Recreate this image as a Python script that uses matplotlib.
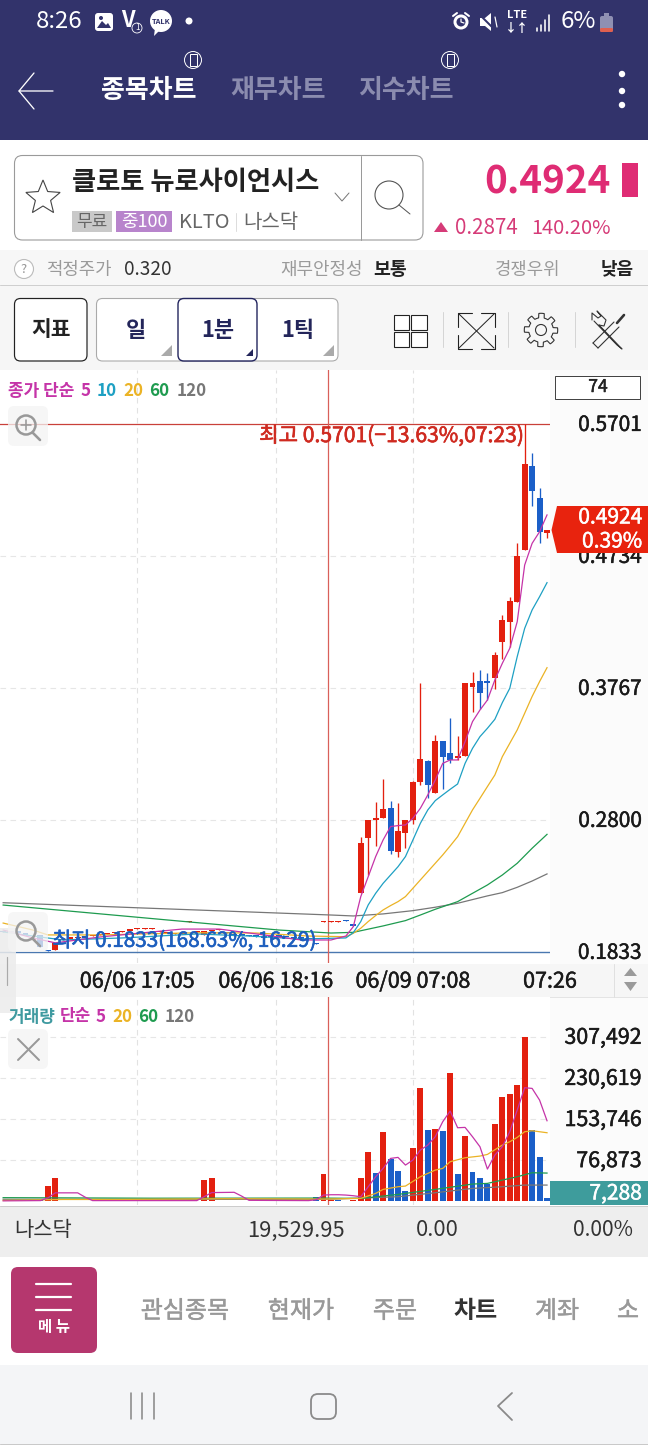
import matplotlib
matplotlib.use("Agg")
import matplotlib.pyplot as plt
import matplotlib.patheffects as pe
from matplotlib.patches import FancyBboxPatch, Rectangle, Polygon, Circle
from matplotlib.transforms import ScaledTranslation
import numpy as np

plt.rcParams['font.family'] = ['Noto Sans CJK KR', 'DejaVu Sans']

# ---------- data ----------
early_open = [.1987,.1987,.1980,.1965,.1921,.1958,.1850,.1850,.1921,.1930,.1936,.1943,.1950,.1958,.1965,.1972,
              .1980,.1990,.2001,.2001,.2001,.1980,.1972,.1965,.1965,.2053,.1980,.1958,.1987,.1994,.1980,.1958,
              .1958,.1955,.1950,.1950,.1950,.1950,.1945,.1940,.1935,.1930,.1900,.2053,.2053,.2053,.2066,.2030]
early_close = [.1980,.1980,.1975,.1960,.1936,.1870,.1840,.1900,.1925,.1935,.1940,.1948,.1955,.1962,.1970,.1976,
               .1985,.2001,.2006,.2006,.2006,.1985,.1976,.1970,.1970,.2060,.1985,.1987,.1994,.1998,.1973,.1952,
               .1952,.1950,.1945,.1936,.1945,.1945,.1940,.1935,.1930,.1925,.1892,.2060,.2060,.2060,.2060,.2025]
late_open = [.2267,.2670,.2802,.2817,.2888,.2568,.2707,.2800,.3078,.3232,.3000,.3379,.3291,.3252,.3267,.3777,
             .3818,.3813,.3840,.4106,.4253,.4399,.4778,.5393,.5161,.4905]
late_high = [.2678,.2800,.2930,.3100,.2939,.2925,.2800,.3086,.3804,.3240,.3423,.3379,.3547,.3415,.3804,.3886,
             .3899,.3879,.4033,.4302,.4436,.4832,.5701,.5489,.5232,.4924]
late_low = [.2267,.2397,.2612,.2815,.2553,.2531,.2595,.2771,.3056,.2963,.3000,.3027,.3220,.3240,.3267,.3591,
            .3613,.3679,.3760,.3980,.4070,.4399,.4778,.5103,.4829,.4867]
late_close = [.2629,.2800,.2817,.2878,.2573,.2722,.2800,.3078,.3249,.3056,.3379,.3264,.3240,.3271,.3801,.3801,
              .3733,.3806,.4009,.4265,.4402,.4736,.5408,.5212,.4912,.4924]

ma5_idx = [0,4,7,13,24,29,35,40,44,46,47,48,49,50,51,52,53,54,55,56,57,58,59,60,61,62,63,64,65,66,67,68,69,70,71,72,73]
ma5_val = [.1994,.1936,.1900,.1943,.2001,.2001,.1958,.1921,.1921,.1950,.2019,.2239,.2385,.2532,.2654,.2752,.2759,.2764,
           .2813,.2886,.2984,.3093,.3215,.3240,.3240,.3374,.3521,.3606,.3679,.3826,.3948,.4058,.4253,.4668,.4827,.4912,.5035]
ma10_idx = [0,5,8,16,26,33,40,46,47,48,49,50,51,52,53,54,55,56,57,58,59,60,61,62,63,64,65,66,67,68,69,70,71,72,73]
ma10_val = [.1980,.1943,.1921,.1936,.1965,.1950,.1928,.1936,.1975,.2056,.2178,.2263,.2336,.2397,.2458,.2532,.2654,.2776,
            .2874,.2942,.2984,.3025,.3064,.3215,.3325,.3411,.3472,.3538,.3660,.3765,.3997,.4204,.4339,.4436,.4539]
ma20_idx = [0,4,6,13,26,34,41,46,47,48,49,50,51,52,53,54,55,56,57,58,59,60,61,62,63,64,65,66,67,68,69,70,71,72,73]
ma20_val = [.2045,.1994,.1958,.1958,.1974,.1972,.1950,.1945,.1970,.2007,.2056,.2100,.2141,.2173,.2202,.2239,.2300,.2361,
            .2422,.2483,.2544,.2610,.2678,.2776,.2874,.2959,.3045,.3130,.3264,.3362,.3460,.3582,.3705,.3814,.3916]
ma60_idx = [0,25,37,44,47,51,54,56,58,61,63,65,67,69,71,73]
ma60_val = [.2177,.2053,.1994,.1972,.1977,.2024,.2063,.2104,.2146,.2202,.2263,.2324,.2397,.2483,.2593,.2695]
ma120_idx = [0,19,44,47,51,55,58,61,65,67,69,71,73]
ma120_val = [.2194,.2155,.2104,.2097,.2112,.2136,.2161,.2190,.2244,.2268,.2307,.2353,.2405]

early_vol = [1200,800,1500,900,1800,2200,28670,44250,1500,900,1200,800,600,1000,2500,2200,900,700,1100,800,1300,
             900,2600,1200,800,1000,1500,39890,43010,1100,900,1400,800,700,1000,900,1200,800,1100,1600,1300,1000,8730,50490,
             2100,1800,1500,1700]
late_vol = [43630,92250,52980,129650,78540,57340,19320,99100,211300,132760,134630,130890,239350,51110,122170,54230,
            43010,31790,143980,195090,200080,216900,307492,132760,82900,7288]
early_vol_up = [1,1,0,1,1,0,1,1,1,0,1,0,1,0,1,1,0,1,0,1,0,1,1,0,1,0,1,1,1,0,1,0,1,0,1,0,0,1,0,1,0,1,0,1,1,0,0,1]
late_vol_up = [1,1,0,1,0,0,0,1,1,0,1,0,1,0,1,0,0,0,1,1,1,1,1,0,0,0]

vma5_idx = [0,5,6,7,10,11,12,26,27,28,31,32,33,41,42,43,44,45,46,47,48,49,50,51,52,53,54,55,56,57,58,59,60,61,62,63,64,65,66,67,68,69,70,71,72,73]
vma5_val = [1000,1500,6500,16000,16000,8000,1500,1500,9000,16500,17000,10000,2000,1500,3000,11840,12470,12470,11840,10600,8730,
            27430,46120,61700,80410,82280,67940,77290,95990,105340,120920,148970,168920,137750,138370,120920,102220,60460,
            86640,102220,130270,170780,212550,211300,189480,150840]
vma20_idx = [0,8,15,30,43,48,50,51,53,54,56,58,59,60,62,64,65,67,68,69,70,71,73]
vma20_val = [1800,3600,3600,5000,4360,5610,14960,22440,27430,28670,46120,58590,61700,74170,81650,84770,87880,105340,111570,119670,130270,132140,128400]
vma60_idx = [0,20,43,48,53,58,63,65,67,69,71,73]
vma60_val = [7000,6000,6230,5610,13090,22440,32410,33660,39890,46120,53600,52980]
vma120_idx = [0,43,53,58,63,67,70,73]
vma120_val = [4000,3740,8730,16210,24310,27430,30540,30540]

price_ticks = [0.1833, 0.2800, 0.3767, 0.4734, 0.5701]
price_labels = ['0.1833', '0.2800', '0.3767', '0.4734', '0.5701']
vol_ticks = [76873, 153746, 230619, 307492]
vol_labels = ['76,873', '153,746', '230,619', '307,492']
time_ticks = [18, 36.6, 55, 73.4]
time_labels = ['06/06 17:05', '06/06 18:16', '06/09 07:08', '07:26']

RED, BLUE = '#E3200F', '#1B5FC8'
C5, C10, C20, C60, C120 = '#C534A8', '#1EA0C3', '#EBB325', '#1E9B4F', '#777777'
W, H = 648, 1445

fig = plt.figure(figsize=(W/100, H/100), dpi=100, facecolor='white')

def rect_axes(x0, y0, x1, y1, z):
    return fig.add_axes([x0/W, 1-y1/H, (x1-x0)/W, (y1-y0)/H], zorder=z)

bg = fig.add_axes([0, 0, 1, 1], zorder=0)
top = fig.add_axes([0, 0, 1, 1], zorder=5)
for a in (bg, top):
    a.set_xlim(0, W); a.set_ylim(H, 0); a.axis('off')
top.patch.set_alpha(0)

def medium(t, col, w=0.35):
    t.set_path_effects([pe.withStroke(linewidth=w, foreground=col)])
    return t

def T(a, x, y, s, px, color='#222222', ha='left', weight='normal', va='center', **kw):
    t = a.text(x, y+1.5, s, fontsize=px*0.72, color=color, ha=ha, va=va,
               fontweight='bold' if weight == 'bold' else 'normal', **kw)
    if weight == 'medium':
        medium(t, color)
    return t

def R(a, x0, y0, x1, y1, fc, ec='none', lw=0, r=0, z=1):
    if r:
        p = FancyBboxPatch((x0, y0), x1-x0, y1-y0, boxstyle=f'round,pad=0,rounding_size={r}',
                           fc=fc, ec=ec, lw=lw*0.72, zorder=z, mutation_aspect=1)
    else:
        p = Rectangle((x0, y0), x1-x0, y1-y0, fc=fc, ec=ec, lw=lw*0.72, zorder=z)
    a.add_patch(p)

def L(a, xs, ys, color, lw=1.0, z=3, **kw):
    a.plot(xs, ys, color=color, lw=lw*0.72, zorder=z, solid_capstyle='round', **kw)

# ---------- backgrounds ----------
NAVY = '#32336B'
R(bg, 0, 0, W, 140, NAVY)
R(bg, 0, 140, W, 250, 'white')
R(bg, 0, 250, W, 286, '#F7F7F7')
L(bg, [0, W], [285, 285], '#CFCFCF', 1)
R(bg, 0, 286, W, 370, '#F6F6F6')
R(bg, 550, 370, W, 1205, '#FBFBFB')
R(bg, 0, 964, W, 997, '#F6F6F6')
L(bg, [0, W], [997, 997], '#E4E4E4', 1)
R(bg, 0, 1206, W, 1257, '#EEEEEE')
L(bg, [0, W], [1206, 1206], '#CCCCCC', 1)
R(bg, 0, 1257, W, 1365, 'white')
R(bg, 0, 1365, W, H, '#F4F5F7')
L(bg, [0, W], [1444, 1444], '#C9C9C9', 1)

# ---------- status and title bar ----------
T(bg, 36, 20, '8:26', 24, 'white')
R(bg, 95, 13, 113, 31, 'white', r=3, z=2)
bg.add_patch(Polygon([[97, 28], [102, 21], [106, 25], [108, 23], [111, 28]], fc=NAVY, zorder=3))
bg.add_patch(Circle((101, 18), 2, fc=NAVY, zorder=3))
T(bg, 128, 19, 'V', 22, 'white', ha='center', weight='bold')
bg.add_patch(Circle((137, 28), 5, fc='none', ec='white', lw=0.6, zorder=3))
T(bg, 137, 26, '1', 8, 'white', ha='center')
bg.add_patch(Circle((161, 21), 11, fc='white', zorder=2))
bg.add_patch(Polygon([[155, 28], [159, 31], [154, 36]], fc='white', zorder=2))
T(bg, 161, 19.5, 'TALK', 7.5, NAVY, ha='center', weight='bold', zorder=3)
bg.add_patch(Circle((189, 21), 3.5, fc='white', zorder=2))
bg.add_patch(Circle((461, 22), 7.5, fc='white', zorder=2))
bg.add_patch(Circle((461, 22), 4.5, fc=NAVY, zorder=3))
L(bg, [461, 461, 464], [19, 22, 23], 'white', 1.2, z=4)
L(bg, [453, 457], [16, 13], 'white', 2)
L(bg, [465, 469], [13, 16], 'white', 2)
bg.add_patch(Polygon([[480, 18], [485, 18], [491, 13], [491, 31], [485, 26], [480, 26]], fc='white', zorder=2))
L(bg, [479, 496], [14, 31], NAVY, 2, z=3)
L(bg, [495, 497], [17, 27], 'white', 1.2)
T(bg, 517, 13.5, 'LTE', 11, 'white', ha='center', weight='bold')
T(bg, 517, 26.5, '↓↑', 12, 'white', ha='center', weight='bold')
for bx, bt in zip([537, 541, 545, 549], [28, 25, 20, 15]):
    L(bg, [bx, bx], [bt, 31], 'white', 1.6)
T(bg, 561, 20, '6%', 24, 'white')
R(bg, 600, 16, 613, 32, '#8F90B2', r=2, z=2)
R(bg, 604, 13, 609, 16, '#8F90B2', z=2)
R(bg, 600, 28, 613, 32, '#E0604F', r=1.5, z=3)

L(bg, [53, 19, 34], [91, 91, 73], 'white', 1.3)
L(bg, [19, 34], [91, 109], 'white', 1.3)
T(bg, 149, 89, '종목차트', 26, 'white', ha='center', weight='bold')
T(bg, 278, 89, '재무차트', 26, '#8B8CAF', ha='center', weight='bold')
T(bg, 406, 89, '지수차트', 26, '#8B8CAF', ha='center', weight='bold')
for cx in (193, 450):
    bg.add_patch(Circle((cx, 60), 8.5, fc='none', ec='white', lw=0.7, zorder=2))
    R(bg, cx-3.5, 54, cx+3.5, 66, NAVY, ec='white', lw=1, z=3)
for dy in (74, 91, 105):
    bg.add_patch(Circle((622, dy), 3.2, fc='white', zorder=2))

# ---------- stock header ----------
R(bg, 14.5, 155.5, 423, 240, 'white', ec='#9A9A9A', lw=1.1, r=8, z=2)
L(bg, [361, 361], [156, 240], '#9A9A9A', 1)
ang = np.deg2rad(np.arange(0, 360, 36) - 90)
rad = np.where(np.arange(10) % 2 == 0, 18, 8)
bg.add_patch(Polygon(np.c_[43+rad*np.cos(ang), 198+rad*np.sin(ang)], fc='none', ec='#444444', lw=0.8, zorder=3))
T(bg, 72, 181, '클로토 뉴로사이언시스', 26.3, '#222222', weight='bold', zorder=3)
L(bg, [335, 342, 349], [193, 201, 193], '#777777', 1)
bg.add_patch(Circle((389, 195), 14, fc='none', ec='#555555', lw=0.8, zorder=3))
L(bg, [399, 410], [205, 214], '#555555', 1)
R(bg, 72, 211, 112, 232, '#C9C9C9', z=3)
T(bg, 92, 220, '무료', 17, '#666666', ha='center', zorder=4)
R(bg, 116, 211, 172, 232, '#B884CC', z=3)
T(bg, 144, 220, '중100', 18, 'white', ha='center', zorder=4)
T(bg, 179, 221, 'KLTO', 20, '#666666', zorder=3)
L(bg, [236, 236], [213, 231], '#DDDDDD', 1)
T(bg, 243, 221, '나스닥', 20, '#666666', zorder=3)
PINK = '#DF2C74'
T(bg, 611, 180, '0.4924', 38.5, PINK, ha='right', weight='bold')
R(bg, 622, 163, 638, 197, PINK)
bg.add_patch(Polygon([[434, 232], [448, 232], [441, 222]], fc='#D63B78'))
T(bg, 455, 226.5, '0.2874', 20.5, '#D63B78')
T(bg, 611, 226.5, '140.20%', 20, '#D63B78', ha='right')

# ---------- info row ----------
bg.add_patch(Circle((24, 269), 9.5, fc='white', ec='#BBBBBB', lw=0.8, zorder=2))
T(bg, 24, 268, '?', 13, '#999999', ha='center', zorder=3)
T(bg, 46, 268, '적정주가', 17.8, '#9A9A9A')
T(bg, 124, 268, '0.320', 19, '#333333')
T(bg, 363, 268, '재무안정성', 18, '#9A9A9A', ha='right')
T(bg, 373, 268, '보통', 18.3, '#222222', weight='bold')
T(bg, 560, 268, '경쟁우위', 17.8, '#9A9A9A', ha='right')
T(bg, 634, 268, '낮음', 18, '#222222', ha='right', weight='bold')

# ---------- toolbar ----------
R(bg, 14.5, 298.5, 87, 361, 'white', ec='#222222', lw=1.2, r=6, z=2)
T(bg, 51, 328, '지표', 21.5, '#222222', ha='center', weight='bold', zorder=3)
R(bg, 96.5, 298.5, 338, 361, 'white', ec='#AAAAAA', lw=1.1, r=6, z=2)
R(bg, 178, 298.5, 257, 361, 'white', ec='#24265F', lw=1.4, r=6, z=3)
for cx, s in zip((136, 218, 298), ('일', '1분', '1틱')):
    T(bg, cx, 329, s, 22, '#23255A', ha='center', weight='bold', zorder=4)
for rx, c in ((172, '#AAAAAA'), (253, '#23255A'), (334, '#AAAAAA')):
    sz = 11 if c != '#23255A' else 7
    bg.add_patch(Polygon([[rx-sz, 356], [rx, 356], [rx, 356-sz]], fc=c, zorder=4))
for gx in (393.5, 411):
    for gy in (314.5, 331.5):
        R(bg, gx, gy, gx+15.5, gy+15.5, 'white', ec='#222222', lw=1.1, z=2)
for dv in (443, 508, 575):
    L(bg, [dv, dv], [312, 347], '#D5D5D5', 1)
L(bg, [459, 494], [314, 348], '#222222', 1)
L(bg, [459, 494], [348, 314], '#222222', 1)
for px_, py_, sx, sy in ((458, 313, 1, 1), (495, 313, -1, 1), (458, 349, 1, -1), (495, 349, -1, -1)):
    L(bg, [px_, px_, px_+14*sx], [py_+14*sy, py_, py_], '#222222', 1.1)
gth = np.linspace(0, 2*np.pi, 97)
gr = 14.5 + 2.2*np.sign(np.cos(8*gth))
bg.add_patch(Polygon(np.c_[541+gr*np.cos(gth), 330+gr*np.sin(gth)], fc='none', ec='#333333', lw=0.8, zorder=2))
bg.add_patch(Circle((541, 330), 5.5, fc='none', ec='#333333', lw=0.8, zorder=2))
L(bg, [599, 622, 617, 594], [325, 349, 345, 321], '#333333', 1.1)
L(bg, [592, 592, 598, 601, 597, 606, 604, 599], [320, 313, 318, 316, 311, 320, 326, 325], '#333333', 1.1)
L(bg, [593, 614], [343, 322], '#333333', 1.1)
L(bg, [598, 619], [348, 327], '#333333', 1.1)
L(bg, [593, 598], [343, 348], '#333333', 1.1)
L(bg, [617, 624], [323, 315], '#333333', 2.6)

# ---------- price panel ----------
ax = rect_axes(0, 370, 550, 963, 2)
ax.set_xlim(-0.423, 73.4)
ax.set_ylim(0.17524, 0.6097)
ax.set_facecolor('white')
for s in ax.spines.values():
    s.set_visible(False)
for v in price_ticks[1:4]:
    ax.axhline(v, color='#E6E6E6', lw=0.8, ls=(0, (5, 4)), zorder=1)
for v in time_ticks[:3]:
    ax.axvline(v, color='#E2E2E2', lw=0.8, ls=(0, (5, 4)), zorder=1)

n_early = len(early_open)
xs_e = np.arange(n_early)
xs_l = np.arange(n_early, n_early+len(late_open))
o = np.array(early_open + late_open)
c = np.array(early_close + late_close)
h = np.array([max(a, b) for a, b in zip(early_open, early_close)] + late_high)
l = np.array([min(a, b) for a, b in zip(early_open, early_close)] + late_low)
xs = np.r_[xs_e, xs_l]
up = c >= o
cols = np.where(up, RED, BLUE)
ax.vlines(xs, l, h, colors=cols, lw=0.95, zorder=3)
body_h = np.maximum(np.abs(c-o), 0.0010)
ax.bar(xs, body_h, bottom=np.minimum(o, c), width=0.8, color=cols, lw=0, zorder=3)

for ix, vals, col in ((ma120_idx, ma120_val, C120), (ma60_idx, ma60_val, C60), (ma20_idx, ma20_val, C20),
                      (ma10_idx, ma10_val, C10), (ma5_idx, ma5_val, C5)):
    ax.plot(ix, vals, color=col, lw=0.9, zorder=4)

ax.axhline(0.5701, color='#C9403A', lw=0.9, zorder=2)
ax.axhline(0.1833, color='#4A78B0', lw=1.0, zorder=2)
ax.axvline(43.54, color='#D9605A', lw=0.9, zorder=2)
medium(ax.text(69.85, 0.5613, '최고 0.5701(−13.63%,07:23)', color='#CF2A20', ha='right', va='center',
               fontsize=15.2, zorder=6), '#CF2A20', 0.45)
medium(ax.text(6.6, 0.1915, '최저 0.1833(168.63%, 16:29)', color='#1E5FBE', ha='left', va='center',
               fontsize=14.9, zorder=6), '#1E5FBE', 0.45)

up_shift = ScaledTranslation(0, 1.2/72, fig.dpi_scale_trans)
ax.yaxis.tick_right()
ax.set_yticks(price_ticks)
ax.set_yticklabels(price_labels, ha='right', fontsize=15, color='#1A1A1A')
ax.tick_params(axis='y', length=0, pad=66)
ax.set_xticks(time_ticks)
ax.set_xticklabels(time_labels, fontsize=15.5, color='#1A1A1A')
ax.tick_params(axis='x', length=0, pad=5.5)
for lbl in ax.get_yticklabels() + ax.get_xticklabels():
    medium(lbl, '#1A1A1A')
for lbl in ax.get_yticklabels():
    lbl.set_transform(lbl.get_transform() + up_shift)

# ---------- volume panel ----------
vx = rect_axes(0, 997, 550, 1205, 2)
vx.set_xlim(-0.423, 73.4)
vx.set_ylim(-6730, 382228)
vx.set_facecolor('white')
for s in vx.spines.values():
    s.set_visible(False)
for v in vol_ticks:
    vx.axhline(v, color='#E6E6E6', lw=0.8, ls=(0, (5, 4)), zorder=1)
for v in time_ticks[:3]:
    vx.axvline(v, color='#E2E2E2', lw=0.8, ls=(0, (5, 4)), zorder=1)
vol = np.array(early_vol + late_vol)
vol_up = np.array(early_vol_up + late_vol_up, dtype=bool)
vx.bar(np.arange(len(vol)), vol, width=0.8, color=np.where(vol_up, RED, BLUE), lw=0, zorder=3)
for ix, vals, col in ((vma120_idx, vma120_val, C120), (vma60_idx, vma60_val, C60),
                      (vma20_idx, vma20_val, C20), (vma5_idx, vma5_val, C5)):
    vx.plot(ix, vals, color=col, lw=0.9, zorder=4)
vx.axvline(43.54, color='#D9605A', lw=0.9, zorder=2)
vx.yaxis.tick_right()
vx.set_yticks(vol_ticks)
vx.set_yticklabels(vol_labels, ha='right', fontsize=15.4, color='#1A1A1A')
vx.tick_params(axis='y', length=0, pad=66)
vx.set_xticks([])
for lbl in vx.get_yticklabels():
    medium(lbl, '#1A1A1A')
    lbl.set_transform(lbl.get_transform() + up_shift)

# ---------- overlays on the charts ----------
def legend(y, items):
    for x, s, col in items:
        T(top, x, y, s, 17, col, weight='bold', zorder=7)

legend(389, [(8, '종가 단순', C5), (81, '5', C5), (97, '10', C10), (123, '20', C20), (149, '60', C60), (177, '120', C120)])
legend(1015, [(9, '거래량', '#3F9AA0'), (60, '단순', C5), (96, '5', C5), (112, '20', C20), (138, '60', C60), (165, '120', C120)])
R(top, 555, 375.5, 640, 399, 'white', ec='#444444', lw=1, z=3)
T(top, 598, 385.5, '74', 17.5, '#222222', ha='center', weight='medium', zorder=4)

def magnifier(cy, plus):
    R(top, 8, cy-20, 48, cy+20, '#F4F4F4', r=6, z=2)
    top.patches[-1].set_alpha(0.75)
    top.add_patch(Circle((26, cy-1), 9.5, fc='none', ec='#999999', lw=1.8, zorder=3))
    L(top, [33, 40], [cy+7, cy+14], '#999999', 2.6)
    if plus:
        L(top, [21, 31], [cy-1, cy-1], '#999999', 1.6)
        L(top, [26, 26], [cy-6, cy+4], '#999999', 1.6)

magnifier(426, True)
R(top, 0, 928, 16, 1013, '#ECECEC', z=1)
top.patches[-1].set_alpha(0.85)
magnifier(932, False)
L(top, [7, 7], [957, 985], '#AAAAAA', 1.2)
R(top, 8, 1029, 48, 1069, '#F6F6F6', r=6, z=2)
L(top, [18, 39], [1039, 1060], '#999999', 2)
L(top, [39, 18], [1039, 1060], '#999999', 2)

top.add_patch(Polygon([[551.5, 530], [557, 506], [648, 506], [648, 553], [557, 553]], fc='#E8230E', ec='none', zorder=6))
T(top, 642, 516, '0.4924', 21, 'white', ha='right', weight='medium', zorder=7)
T(top, 642, 540, '0.39%', 21, 'white', ha='right', weight='medium', zorder=7)
R(top, 550, 1181, W, 1205, '#3E9C9C', z=6)
T(top, 642, 1192, '7,288', 21, 'white', ha='right', weight='medium', zorder=7)
top.add_patch(Polygon([[624, 976], [637, 976], [630.5, 968]], fc='#9A9A9A', zorder=3))
top.add_patch(Polygon([[624, 982], [637, 982], [630.5, 991]], fc='#9A9A9A', zorder=3))
L(top, [614, 614], [964, 997], '#E0E0E0', 1)

# ---------- lower bars ----------
T(bg, 14, 1229, '나스닥', 21, '#333333')
T(bg, 345, 1229, '19,529.95', 22, '#333333', ha='right')
T(bg, 437, 1229, '0.00', 22, '#333333', ha='center')
T(bg, 633, 1229, '0.00%', 21, '#333333', ha='right')
R(bg, 11, 1267, 97, 1353, '#B5376E', r=7, z=2)
for ly in (1284, 1297, 1310):
    L(bg, [36, 71], [ly, ly], 'white', 2.2, z=3)
T(bg, 54, 1325.5, '메 뉴', 15.5, 'white', ha='center', weight='bold', zorder=3)
for cx, s in ((185, '관심종목'), (301, '현재가'), (395, '주문'), (557, '계좌'), (628, '소')):
    T(bg, cx, 1310, s, 24, '#999999', ha='center', weight='medium')
T(bg, 476, 1310, '차트', 24, '#333333', ha='center', weight='bold')
for nx in (130.5, 142, 154):
    L(bg, [nx, nx], [1393, 1419], '#8A8A8A', 1.6)
R(bg, 311, 1394, 336, 1419, 'none', ec='#8A8A8A', lw=1.8, r=7, z=2)
L(bg, [512, 498, 512], [1393, 1406, 1420], '#8A8A8A', 1.8)

fig.savefig('out.png', dpi=100)
